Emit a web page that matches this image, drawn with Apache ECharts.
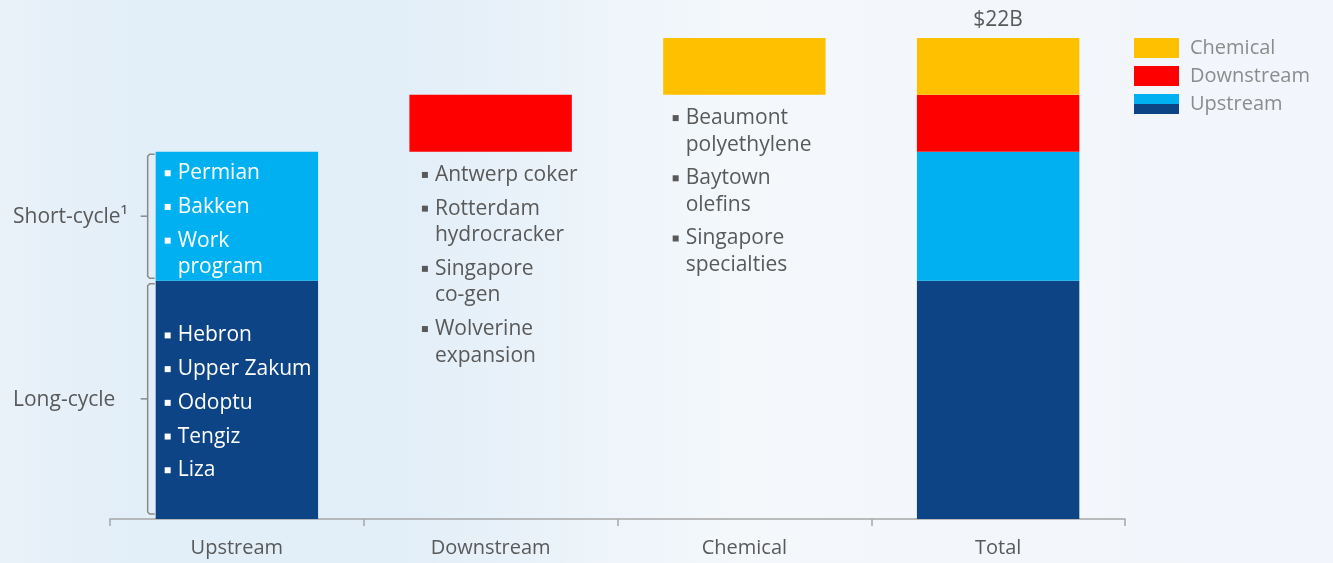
<!DOCTYPE html>
<html>
<head>
<meta charset="utf-8">
<script src="https://cdn.jsdelivr.net/npm/echarts@6/dist/echarts.min.js"></script>
<style>
html,body{margin:0;padding:0;}
#chart{width:1333px;height:563px;}
</style>
</head>
<body>
<div id="chart"></div>
<script>
// ---- data ----
const categories = ['Upstream', 'Downstream', 'Chemical', 'Total'];
const upstreamLongCycle = 10.9;   // $B
const upstreamShortCycle = 5.9;   // $B
const downstreamValue = 2.6;      // $B
const chemicalValue = 2.6;        // $B
const legendNames = ['Chemical', 'Downstream', 'Upstream'];
const shortCycleProjects = [['Permian'], ['Bakken'], ['Work', 'program']];
const longCycleProjects = [['Hebron'], ['Upper Zakum'], ['Odoptu'], ['Tengiz'], ['Liza']];
const downstreamProjects = [['Antwerp coker'], ['Rotterdam', 'hydrocracker'], ['Singapore', 'co-gen'], ['Wolverine', 'expansion']];
const chemicalProjects = [['Beaumont', 'polyethylene'], ['Baytown', 'olefins'], ['Singapore', 'specialties']];
const sideLabels = ['Short-cycle\u00b9', 'Long-cycle'];

// ---- derived waterfall ----
const upstreamTotal = upstreamLongCycle + upstreamShortCycle;
const grandTotal = upstreamTotal + downstreamValue + chemicalValue;
const baseData = [0, upstreamTotal, upstreamTotal + downstreamValue, 0];

const FONT = '"Open Sans", "Noto Sans", sans-serif';
const GRAY = '#595959';
const COLORS = { chem: '#FFC000', down: '#FF0000', upLight: '#00B0F0', upDark: '#0D4485' };

function listRich(color) {
  return {
    b: { width: 6, height: 6, backgroundColor: color, fontSize: 1, lineHeight: 26.5, verticalAlign: 'middle' },
    t: { color: color, fontSize: 21, fontFamily: FONT, lineHeight: 26.5, padding: [0, 0, 0, 7] },
    c: { color: color, fontSize: 21, fontFamily: FONT, lineHeight: 26.5, padding: [0, 0, 0, 13] },
    g: { fontSize: 4, lineHeight: 7.2 }
  };
}
function listText(items) {
  const out = [];
  items.forEach((lines, i) => {
    if (i > 0) out.push('{g| }');
    lines.forEach((ln, j) => {
      out.push(j === 0 ? '{b| }{t|' + ln + '}' : '{c|' + ln + '}');
    });
  });
  return out.join('\n');
}

const chart = echarts.init(document.getElementById('chart'), null, { renderer: 'canvas' });

const upstreamIcon = 'image://data:image/svg+xml;utf8,' + encodeURIComponent(
  '<svg xmlns="http://www.w3.org/2000/svg" width="45" height="20"><rect x="0" y="0" width="45" height="10" fill="' + COLORS.upLight + '"/><rect x="0" y="10" width="45" height="10" fill="' + COLORS.upDark + '"/></svg>');

const option = {
  animation: false,
  backgroundColor: {
    type: 'linear', x: 0, y: 0, x2: 1, y2: 0,
    colorStops: [
      { offset: 0, color: '#EAF2F9' },
      { offset: 0.1, color: '#E2EEF8' },
      { offset: 0.3, color: '#E2EEF8' },
      { offset: 0.45, color: '#EDF4FA' },
      { offset: 0.55, color: '#F4F8FB' },
      { offset: 1, color: '#F2F6FC' }
    ]
  },
  grid: { left: 110, right: 208, top: 38, bottom: 44 },
  legend: {
    orient: 'vertical',
    left: 1134, top: 38, padding: 0,
    itemWidth: 45, itemHeight: 20, itemGap: 8,
    textStyle: { color: '#8c8c8c', fontSize: 20, fontFamily: FONT, lineHeight: 20, padding: [0, 0, 0, 6] },
    data: [
      { name: legendNames[0], icon: 'rect' },
      { name: legendNames[1], icon: 'rect' },
      { name: legendNames[2], icon: upstreamIcon }
    ],
    selectedMode: false
  },
  xAxis: {
    type: 'category',
    data: categories,
    axisLine: { lineStyle: { color: '#a6a6a6', width: 1.5 } },
    axisTick: { show: true, length: 7, lineStyle: { color: '#a6a6a6', width: 1.5 } },
    axisLabel: { color: GRAY, fontSize: 20, fontFamily: FONT, margin: 19 }
  },
  yAxis: { type: 'value', min: 0, max: grandTotal, show: false, splitLine: { show: false } },
  series: [
    {
      name: 'base', type: 'bar', stack: 'w', barWidth: '64%',
      itemStyle: { color: 'transparent' },
      data: baseData, silent: true
    },
    {
      name: 'Upstream', type: 'bar', stack: 'w',
      itemStyle: { color: COLORS.upDark },
      data: [
        { value: upstreamLongCycle, label: { show: true, position: 'insideLeft', distance: 9, offset: [0, 3], formatter: listText(longCycleProjects), rich: listRich('#ffffff') } },
        '-', '-', upstreamLongCycle
      ]
    },
    {
      name: 'Upstream', type: 'bar', stack: 'w',
      itemStyle: { color: COLORS.upLight },
      data: [
        { value: upstreamShortCycle, label: { show: true, position: 'insideLeft', distance: 9, offset: [0, 4], formatter: listText(shortCycleProjects), rich: listRich('#ffffff') } },
        '-', '-', upstreamShortCycle
      ]
    },
    {
      name: 'Downstream', type: 'bar', stack: 'w',
      itemStyle: { color: COLORS.down },
      data: [
        '-',
        { value: downstreamValue, label: { show: true, position: [12.5, '100%'], offset: [0, 10], formatter: listText(downstreamProjects), rich: listRich(GRAY) } },
        '-', downstreamValue
      ]
    },
    {
      name: 'Chemical', type: 'bar', stack: 'w',
      itemStyle: { color: COLORS.chem },
      data: [
        '-', '-',
        { value: chemicalValue, label: { show: true, position: [9.5, '100%'], offset: [0, 10], formatter: listText(chemicalProjects), rich: listRich(GRAY) } },
        { value: chemicalValue, label: { show: true, position: 'top', distance: 7, formatter: '$' + Math.round(grandTotal) + 'B', color: GRAY, fontSize: 21, fontFamily: FONT } }
      ]
    }
  ]
};
chart.setOption(option);

// ---- brackets with side labels (positions from the chart's own scales) ----
const cx0 = chart.convertToPixel({ xAxisIndex: 0 }, categories[0]);
const band = chart.convertToPixel({ xAxisIndex: 0 }, categories[1]) - cx0;
const barLeft = cx0 - band * 0.32;
const bx = barLeft - 8;
const yZero = chart.convertToPixel({ yAxisIndex: 0 }, 0);
const yLong = chart.convertToPixel({ yAxisIndex: 0 }, upstreamLongCycle);
const yUp = chart.convertToPixel({ yAxisIndex: 0 }, upstreamTotal);
const segs = [[yUp + 2.5, yLong - 2.5, sideLabels[0]], [yLong + 3, yZero - 5, sideLabels[1]]];
const graphics = [];
segs.forEach(([y0, y1, txt]) => {
  const ym = (y0 + y1) / 2;
  graphics.push({
    type: 'polyline', silent: true,
    shape: { points: [[barLeft - 1, y0], [bx + 2, y0], [bx, y0 + 2], [bx, y1 - 2], [bx + 2, y1], [barLeft - 1, y1]] },
    style: { stroke: '#8a8a8a', lineWidth: 1.5, fill: null }
  });
  graphics.push({
    type: 'line', silent: true,
    shape: { x1: bx - 7, y1: ym, x2: bx, y2: ym },
    style: { stroke: '#8a8a8a', lineWidth: 1.5 }
  });
  graphics.push({
    type: 'text', silent: true, x: 13, y: ym + 1,
    style: { text: txt, fill: GRAY, fontSize: 21, fontFamily: FONT, verticalAlign: 'middle', align: 'left' }
  });
});
chart.setOption({ graphic: graphics });
</script>
</body>
</html>
